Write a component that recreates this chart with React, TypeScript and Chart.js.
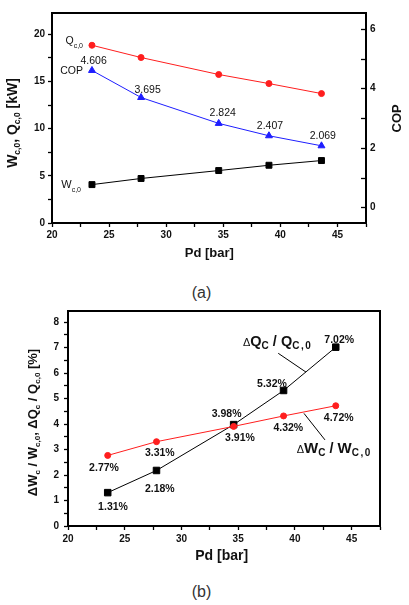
import React, { useEffect, useRef } from 'react';
import { Chart, registerables } from 'chart.js';

Chart.register(...registerables);

// ---------- data ----------
const pressure = [23.5, 27.8, 34.6, 39.0, 43.6];
const qc0 = [18.84, 17.54, 15.74, 14.78, 13.72];
const wc0 = [4.07, 4.72, 5.56, 6.12, 6.62];
const cop = [4.606, 3.695, 2.824, 2.407, 2.069];
const copLabels = ['4.606', '3.695', '2.824', '2.407', '2.069'];
const dQ = [1.31, 2.18, 3.98, 5.32, 7.02];
const dW = [2.77, 3.31, 3.91, 4.32, 4.72];
const dQLabels = ['1.31%', '2.18%', '3.98%', '5.32%', '7.02%'];
const dWLabels = ['2.77%', '3.31%', '3.91%', '4.32%', '4.72%'];

const xMajor = [20, 25, 30, 35, 40, 45];
const xAll = [20, 22.5, 25, 27.5, 30, 32.5, 35, 37.5, 40, 42.5, 45, 47.5];
const kwMajor = [0, 5, 10, 15, 20];
const kwAll = [0, 2.5, 5, 7.5, 10, 12.5, 15, 17.5, 20];
const copMajor = [0, 2, 4, 6];
const copAll = [0, 1, 2, 3, 4, 5, 6];
const pctMajor = [0, 1, 2, 3, 4, 5, 6, 7, 8];
const pctAll = [0, 0.5, 1, 1.5, 2, 2.5, 3, 3.5, 4, 4.5, 5, 5.5, 6, 6.5, 7, 7.5, 8];

// ---------- style ----------
const FONT = '"Liberation Sans", Arial, sans-serif';
const RED = '#ff1e1e';
const BLUE = '#1e1eff';
const BLACK = '#000000';

type Part = { t: string; size: number; bold?: boolean; dy?: number; ls?: number };

function fontOf(p: Part) {
  return `${p.bold ? 'bold ' : ''}${p.size}px ${FONT}`;
}

function drawRich(ctx: CanvasRenderingContext2D, parts: Part[], x: number, y: number, align: 'left' | 'right' | 'center') {
  const widths: number[] = [];
  let total = 0;
  for (const p of parts) {
    ctx.font = fontOf(p);
    (ctx as any).letterSpacing = `${p.ls || 0}px`;
    const w = ctx.measureText(p.t).width;
    widths.push(w);
    total += w;
  }
  let cx = align === 'left' ? x : align === 'right' ? x - total : x - total / 2;
  ctx.textAlign = 'left';
  ctx.textBaseline = 'alphabetic';
  parts.forEach((p, i) => {
    ctx.font = fontOf(p);
    (ctx as any).letterSpacing = `${p.ls || 0}px`;
    ctx.fillText(p.t, cx, y + (p.dy || 0));
    cx += widths[i];
  });
  (ctx as any).letterSpacing = '0px';
}

function drawRotated(ctx: CanvasRenderingContext2D, parts: Part[], cx: number, cy: number) {
  ctx.save();
  ctx.translate(cx, cy);
  ctx.rotate(-Math.PI / 2);
  drawRich(ctx, parts, 0, 0, 'center');
  ctx.restore();
}

const tickFont = { family: FONT, size: 10, weight: 'bold' as const };
const gridOut = { drawOnChartArea: false, drawTicks: true, tickLength: 4, tickWidth: 1.3, tickColor: BLACK };
const borderCfg = { display: true, color: BLACK, width: 2 };

const setTicks = (vals: number[]) => (s: any) => {
  s.ticks = vals.map((v) => ({ value: v }));
};
const majorCb = (major: number[]) => (v: any) => (major.includes(Number(v)) ? String(v) : '');

const framePlugin = {
  id: 'frame',
  afterDraw(chart: any) {
    const { ctx, chartArea: a } = chart;
    ctx.save();
    ctx.strokeStyle = BLACK;
    ctx.lineWidth = 2;
    ctx.strokeRect(a.left, a.top, a.right - a.left, a.bottom - a.top);
    ctx.restore();
  },
};

// ---------- chart (a) ----------
const copOffsets = [
  [1.7, -6.5],
  [6.6, -4.9],
  [4, -7.4],
  [1, -6.5],
  [1.3, -6.6],
];

const topPlugin = {
  id: 'topNotes',
  afterDraw(chart: any) {
    const { ctx, chartArea: a } = chart;
    const xs = chart.scales.x;
    const ys = chart.scales.y;
    const y1 = chart.scales.y1;
    ctx.save();
    ctx.fillStyle = '#111';
    // inward ticks on COP axis
    ctx.strokeStyle = BLACK;
    ctx.lineWidth = 1.3;
    copAll.forEach((v) => {
      const py = Math.round(y1.getPixelForValue(v)) + 0.5;
      ctx.beginPath();
      ctx.moveTo(a.right, py);
      ctx.lineTo(a.right - 5, py);
      ctx.stroke();
    });
    // COP value labels
    cop.forEach((v, i) => {
      const px = xs.getPixelForValue(pressure[i]);
      const py = y1.getPixelForValue(v);
      drawRich(ctx, [{ t: copLabels[i], size: 10.5 }], px + copOffsets[i][0], py + copOffsets[i][1], 'center');
    });
    // series names
    const qx = xs.getPixelForValue(pressure[0]);
    drawRich(ctx, [{ t: 'Q', size: 10.5 }, { t: 'c,0', size: 7, dy: 4 }], qx - 9, ys.getPixelForValue(qc0[0]) - 1, 'right');
    drawRich(ctx, [{ t: 'COP', size: 10.5 }], qx - 9, y1.getPixelForValue(cop[0]) + 3.5, 'right');
    drawRich(ctx, [{ t: 'W', size: 11 }, { t: 'c,0', size: 7, dy: 4 }], qx - 11, ys.getPixelForValue(wc0[0]) + 3, 'right');
    // axis titles
    ctx.fillStyle = '#111';
    drawRotated(
      ctx,
      [
        { t: 'W', size: 14, bold: true },
        { t: 'c,0', size: 8.5, bold: true, dy: 3 },
        { t: ', Q', size: 14, bold: true },
        { t: 'c,0', size: 8.5, bold: true, dy: 3 },
        { t: ' [kW]', size: 14, bold: true },
      ],
      17.3,
      123
    );
    drawRotated(ctx, [{ t: 'COP', size: 13, bold: true }], 400.5, 118.3);
    drawRich(ctx, [{ t: 'Pd [bar]', size: 13, bold: true }], 209.3, 257, 'center');
    ctx.restore();
  },
};

function makeTop(): any {
  const pts = (ys: number[]) => pressure.map((x, i) => ({ x, y: ys[i] }));
  return {
    type: 'scatter',
    data: {
      datasets: [
        { data: pts(qc0), yAxisID: 'y', showLine: true, borderColor: RED, backgroundColor: RED, borderWidth: 1, pointStyle: 'circle', pointRadius: 3, pointBorderWidth: 1 },
        { data: pts(cop), yAxisID: 'y1', showLine: true, borderColor: BLUE, backgroundColor: BLUE, borderWidth: 1, pointStyle: 'triangle', pointRadius: 4, pointBorderWidth: 1 },
        { data: pts(wc0), yAxisID: 'y', showLine: true, borderColor: BLACK, backgroundColor: BLACK, borderWidth: 1, pointStyle: 'rect', pointRadius: 4.2, pointBorderWidth: 1 },
      ],
    },
    options: {
      responsive: false,
      animation: false,
      events: [],
      layout: { padding: { top: 13, left: 0, right: 0, bottom: 0 } },
      plugins: { legend: { display: false }, tooltip: { enabled: false } },
      scales: {
        x: {
          type: 'linear',
          min: 20,
          max: 47.5,
          afterBuildTicks: setTicks(xAll),
          afterFit: (s: any) => { s.height = 47; },
          ticks: { callback: majorCb(xMajor), autoSkip: false, maxRotation: 0, font: tickFont, color: '#111', padding: 2 },
          grid: gridOut,
          border: borderCfg,
        },
        y: {
          type: 'linear',
          position: 'left',
          min: 0,
          max: 22.26,
          afterBuildTicks: setTicks(kwAll),
          afterFit: (s: any) => { s.width = 52; },
          ticks: { callback: majorCb(kwMajor), autoSkip: false, font: tickFont, color: '#111', padding: 3 },
          grid: gridOut,
          border: borderCfg,
        },
        y1: {
          type: 'linear',
          position: 'right',
          min: -0.53,
          max: 6.54,
          afterBuildTicks: setTicks(copAll),
          afterFit: (s: any) => { s.width = 43; },
          ticks: { callback: majorCb(copMajor), autoSkip: false, font: tickFont, color: '#111', padding: 4 },
          grid: { drawOnChartArea: false, drawTicks: false },
          border: borderCfg,
        },
      },
    },
    plugins: [framePlugin, topPlugin],
  };
}

// ---------- chart (b) ----------
const dQOffsets = [
  [5.3, 13.5],
  [3.3, 17.8],
  [-7, -11.4],
  [-11.6, -6.8],
  [3.5, -7.6],
];
const dWOffsets = [
  [-3.7, 11.3],
  [3.3, 10.8],
  [6.3, 10.7],
  [4.7, 11.2],
  [3, 11.5],
];
const leaderQ = [
  [38.53, 6.78],
  [40.98, 6.04],
];
const leaderW = [
  [40.8, 4.42],
  [42.65, 3.38],
];
const noteQPos = [35.42, 7.07];
const noteWPos = [40.16, 2.86];

const bottomPlugin = {
  id: 'bottomNotes',
  afterDraw(chart: any) {
    const { ctx } = chart;
    const xs = chart.scales.x;
    const ys = chart.scales.y;
    const P = (x: number, y: number) => [xs.getPixelForValue(x), ys.getPixelForValue(y)];
    ctx.save();
    ctx.fillStyle = '#111';
    const pctLabel = (vals: number[], labels: string[], offs: number[][]) => {
      vals.forEach((v, i) => {
        const [px, py] = P(pressure[i], v);
        drawRich(ctx, [{ t: labels[i], size: 10.5, bold: true }], px + offs[i][0], py + offs[i][1] + 3.8, 'center');
      });
    };
    pctLabel(dQ, dQLabels, dQOffsets);
    pctLabel(dW, dWLabels, dWOffsets);
    // leader lines
    ctx.strokeStyle = BLACK;
    ctx.lineWidth = 1;
    [leaderQ, leaderW].forEach((l) => {
      const [ax, ay] = P(l[0][0], l[0][1]);
      const [bx, by] = P(l[1][0], l[1][1]);
      ctx.beginPath();
      ctx.moveTo(ax, ay);
      ctx.lineTo(bx, by);
      ctx.stroke();
    });
    // series names
    const [qx, qy] = P(noteQPos[0], noteQPos[1]);
    drawRich(
      ctx,
      [
        { t: 'Δ', size: 11 },
        { t: 'Q', size: 14.5, bold: true },
        { t: 'C', size: 10, bold: true, dy: 3 },
        { t: ' / ', size: 14.5, bold: true },
        { t: 'Q', size: 14.5, bold: true },
        { t: 'C,0', size: 10, bold: true, dy: 3, ls: 1.5 },
      ],
      qx,
      qy,
      'left'
    );
    const [wx, wy] = P(noteWPos[0], noteWPos[1]);
    drawRich(
      ctx,
      [
        { t: 'Δ', size: 11 },
        { t: 'W', size: 15, bold: true },
        { t: 'C', size: 10, bold: true, dy: 3 },
        { t: ' / ', size: 14.5, bold: true },
        { t: 'W', size: 15, bold: true },
        { t: 'C,0', size: 10, bold: true, dy: 3, ls: 1.5 },
      ],
      wx,
      wy,
      'left'
    );
    // axis titles
    drawRotated(
      ctx,
      [
        { t: 'ΔW', size: 13, bold: true },
        { t: 'c', size: 8, bold: true, dy: 3 },
        { t: ' / W', size: 13, bold: true },
        { t: 'c,0', size: 8, bold: true, dy: 3 },
        { t: ', ΔQ', size: 13, bold: true },
        { t: 'c', size: 8, bold: true, dy: 3 },
        { t: ' / Q', size: 13, bold: true },
        { t: 'c,0', size: 8, bold: true, dy: 3 },
        { t: ' [%]', size: 13, bold: true },
      ],
      37,
      127.5
    );
    drawRich(ctx, [{ t: 'Pd [bar]', size: 14, bold: true }], 221.7, 265, 'center');
    ctx.restore();
  },
};

function makeBottom(): any {
  const pts = (ys: number[]) => pressure.map((x, i) => ({ x, y: ys[i] }));
  return {
    type: 'scatter',
    data: {
      datasets: [
        { data: pts(dW), showLine: true, borderColor: RED, backgroundColor: RED, borderWidth: 1, pointStyle: 'circle', pointRadius: 3, pointBorderWidth: 1 },
        { data: pts(dQ), showLine: true, borderColor: BLACK, backgroundColor: BLACK, borderWidth: 1, pointStyle: 'rect', pointRadius: 4.6, pointBorderWidth: 1 },
      ],
    },
    options: {
      responsive: false,
      animation: false,
      events: [],
      layout: { padding: { top: 16, left: 0, right: 29, bottom: 0 } },
      plugins: { legend: { display: false }, tooltip: { enabled: false } },
      scales: {
        x: {
          type: 'linear',
          min: 20,
          max: 47.5,
          afterBuildTicks: setTicks(xAll),
          afterFit: (s: any) => { s.height = 54; },
          ticks: { callback: majorCb(xMajor), autoSkip: false, maxRotation: 0, font: tickFont, color: '#111', padding: 3 },
          grid: gridOut,
          border: borderCfg,
        },
        y: {
          type: 'linear',
          position: 'left',
          min: 0,
          max: 8.44,
          afterBuildTicks: setTicks(pctAll),
          afterFit: (s: any) => { s.width = 68; },
          ticks: { callback: majorCb(pctMajor), autoSkip: false, font: tickFont, color: '#111', padding: 5 },
          grid: gridOut,
          border: borderCfg,
        },
      },
    },
    plugins: [framePlugin, bottomPlugin],
  };
}

function ChartCanvas({ make, top, height }: { make: () => any; top: number; height: number }) {
  const ref = useRef<HTMLCanvasElement | null>(null);
  useEffect(() => {
    if (!ref.current) return;
    const c = new Chart(ref.current, make());
    return () => c.destroy();
  }, [make]);
  return (
    <canvas
      ref={ref}
      width={409}
      height={height}
      style={{ position: 'absolute', left: 0, top, width: 409, height }}
    />
  );
}

const captionStyle = (top: number): React.CSSProperties => ({
  position: 'absolute',
  left: 0,
  width: 403,
  top,
  textAlign: 'center',
  font: `16px ${FONT}`,
  color: '#333',
  lineHeight: '20px',
});

export default function App() {
  useEffect(() => {
    document.body.style.margin = '0';
    document.body.style.background = '#fff';
  }, []);
  return (
    <div style={{ position: 'relative', width: 409, height: 605, background: '#fff', overflow: 'hidden' }}>
      <ChartCanvas make={makeTop} top={0} height={270} />
      <div style={captionStyle(283)}>(a)</div>
      <ChartCanvas make={makeBottom} top={295} height={285} />
      <div style={captionStyle(582)}>(b)</div>
    </div>
  );
}
